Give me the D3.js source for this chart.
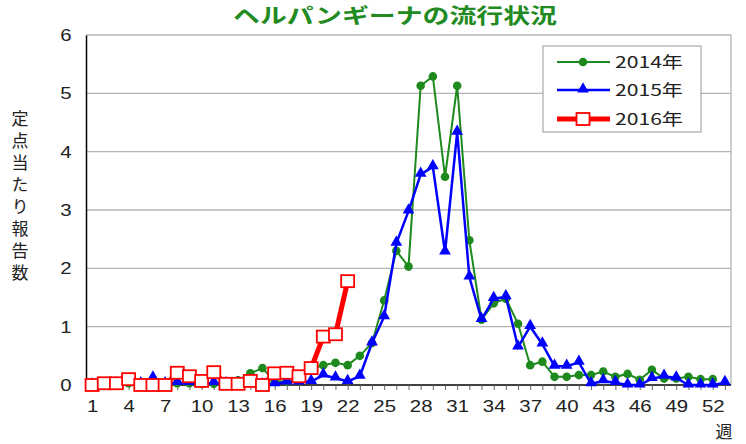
<!DOCTYPE html>
<html><head><meta charset="utf-8">
<script src="https://cdn.jsdelivr.net/npm/d3@7"></script>
<style>
html,body{margin:0;padding:0;background:#fff;}
svg{display:block;font-family:"Liberation Sans",Arial,sans-serif;}
</style></head>
<body><svg id="c" width="746" height="444"></svg>
<script>
const title = "ヘルパンギーナの流行状況";
const yLabel = "定点当たり報告数";
const xLabel = "週";
const seriesNames = ["2014年", "2015年", "2016年"];
const weekTickLabels = [1,4,7,10,13,16,19,22,25,28,31,34,37,40,43,46,49,52];
const yTickLabels = [0,1,2,3,4,5,6];
const v2014 = [0.02,0.02,0.02,0.03,0.02,0.02,0.02,0.03,0.03,0.02,0.02,0.03,0.08,
  0.2,0.29,0.06,0.06,0.1,0.28,0.34,0.38,0.34,0.5,0.72,1.45,2.3,2.03,5.13,5.29,3.57,5.13,2.48,
  1.12,1.4,1.48,1.05,0.34,0.4,0.14,0.14,0.17,0.17,0.23,0.14,0.19,0.09,0.26,0.11,0.11,0.14,0.1,0.1];
const v2015 = [0,0,0.02,0.03,0.02,0.12,0.02,0.04,0.04,0.02,0.04,0.02,0.02,
  0.02,0,0.02,0.05,0.05,0.06,0.17,0.12,0.06,0.15,0.72,1.17,2.43,2.98,3.61,3.74,2.28,4.33,1.85,
  1.12,1.48,1.51,0.65,1.0,0.7,0.32,0.32,0.39,0.02,0.07,0.04,0,0,0.11,0.15,0.12,0,0,0,0.04];
const v2016 = [0,0.03,0.03,0.1,0,0,0,0.21,0.15,0.07,0.22,0.02,0.02,0.07,0,0.2,0.21,0.15,0.29,0.83,0.87,1.78];

const svg = d3.select("#c");
const L = 86, R = 731, T = 35, B = 385;
const x = d3.scaleLinear().domain([0.5, 53.5]).range([L, R]);
const y = d3.scaleLinear().domain([0, 6]).range([B, T]);

// title
svg.append("text").attr("x", 233).attr("y", 23)
  .attr("textLength", 324).attr("lengthAdjust", "spacingAndGlyphs")
  .style("font-family", "'Noto Sans CJK JP',sans-serif").style("font-weight", "bold")
  .style("font-size", "21px").attr("fill", "#218a21").text(title);

// gridlines
svg.append("g").selectAll("line").data(yTickLabels.filter(d => d > 0)).join("line")
  .attr("x1", L).attr("x2", R).attr("y1", d => y(d)).attr("y2", d => y(d))
  .attr("stroke", "#b4b4b4").attr("stroke-width", 1.3);
svg.append("line").attr("x1", R).attr("x2", R).attr("y1", T).attr("y2", B)
  .attr("stroke", "#b4b4b4").attr("stroke-width", 1.3);

// x axis
const weeks = d3.range(1, 54);
const xAxis = d3.axisBottom(x).tickValues(weeks).tickSize(5).tickPadding(10)
  .tickFormat(d => weekTickLabels.includes(d) ? d : "");
const gx = svg.append("g").attr("transform", `translate(0,${B})`).call(xAxis);
gx.select(".domain").attr("stroke", "#000").attr("stroke-width", 1.5).attr("d", `M${L},0H${R}`);
gx.selectAll(".tick line").attr("stroke", "#666");
gx.selectAll(".tick text").style("font-size", "17px").attr("fill", "#222")
  .attr("transform", "scale(1.2,1)");

// y axis
const yAxis = d3.axisLeft(y).tickValues(yTickLabels).tickSize(0).tickPadding(13).tickFormat(d3.format("d"));
const gy = svg.append("g").attr("transform", `translate(${L},0)`).call(yAxis);
gy.select(".domain").attr("stroke", "#000").attr("stroke-width", 1.5);
gy.selectAll(".tick text").style("font-size", "17px").attr("fill", "#222")
  .attr("transform", "scale(1.2,1)").attr("dx", 1);

// y label (vertical writing)
svg.append("text").attr("x", 20).attr("y", 110)
  .style("writing-mode", "vertical-rl").style("letter-spacing", "5px")
  .style("font-family", "'Noto Sans CJK JP',sans-serif").style("font-size", "17px")
  .attr("fill", "#222").text(yLabel);

// x label
svg.append("text").attr("x", 724).attr("y", 438).attr("text-anchor", "middle")
  .style("font-family", "'Noto Sans CJK JP',sans-serif").style("font-size", "17px")
  .attr("fill", "#222").text(xLabel);

const line = d3.line().x((d, i) => x(i + 1)).y(d => y(d));

// 2014
svg.append("path").datum(v2014).attr("d", line).attr("fill", "none")
  .attr("stroke", "#1e8a1e").attr("stroke-width", 2);
svg.append("g").selectAll("circle").data(v2014).join("circle")
  .attr("cx", (d, i) => x(i + 1)).attr("cy", d => y(d)).attr("r", 4.3).attr("fill", "#1e8a1e");

// 2015
const tri = d3.symbol().type(d3.symbolTriangle).size(60);
svg.append("path").datum(v2015).attr("d", line).attr("fill", "none")
  .attr("stroke", "#0000ff").attr("stroke-width", 2.5);
svg.append("g").selectAll("path").data(v2015).join("path")
  .attr("d", tri).attr("transform", (d, i) => `translate(${x(i + 1)},${y(d) - 1})`).attr("fill", "#0000ff");

// 2016
svg.append("path").datum(v2016).attr("d", line).attr("fill", "none")
  .attr("stroke", "#ff0000").attr("stroke-width", 5);
svg.append("g").selectAll("rect").data(v2016).join("rect")
  .attr("x", (d, i) => x(i + 1) - 6.5).attr("y", d => y(d) - 6).attr("width", 13).attr("height", 12)
  .attr("fill", "#fff").attr("stroke", "#ff0000").attr("stroke-width", 1.8);

// legend
const lg = svg.append("g");
lg.append("rect").attr("x", 543).attr("y", 46).attr("width", 158).attr("height", 86)
  .attr("fill", "#fff").attr("stroke", "#aaa").attr("stroke-width", 1.2);
const legRows = [62, 90, 119];
const legColors = ["#1e8a1e", "#0000ff", "#ff0000"];
const legWidths = [2, 2.5, 5];
seriesNames.forEach((name, i) => {
  const yy = legRows[i];
  lg.append("line").attr("x1", 557).attr("x2", 610).attr("y1", yy).attr("y2", yy)
    .attr("stroke", legColors[i]).attr("stroke-width", legWidths[i]);
  if (i === 0) lg.append("circle").attr("cx", 583).attr("cy", yy).attr("r", 4.3).attr("fill", legColors[i]);
  if (i === 1) lg.append("path").attr("d", tri).attr("transform", `translate(583,${yy - 1})`).attr("fill", legColors[i]);
  if (i === 2) lg.append("rect").attr("x", 576.5).attr("y", yy - 6).attr("width", 13).attr("height", 12)
    .attr("fill", "#fff").attr("stroke", legColors[i]).attr("stroke-width", 1.8);
  lg.append("text").attr("x", 615).attr("y", yy + 6).attr("textLength", 68).attr("lengthAdjust", "spacingAndGlyphs")
    .style("font-family", "'Noto Sans CJK JP',sans-serif").style("font-size", "16px").attr("fill", "#222").text(name);
});
</script></body></html>
